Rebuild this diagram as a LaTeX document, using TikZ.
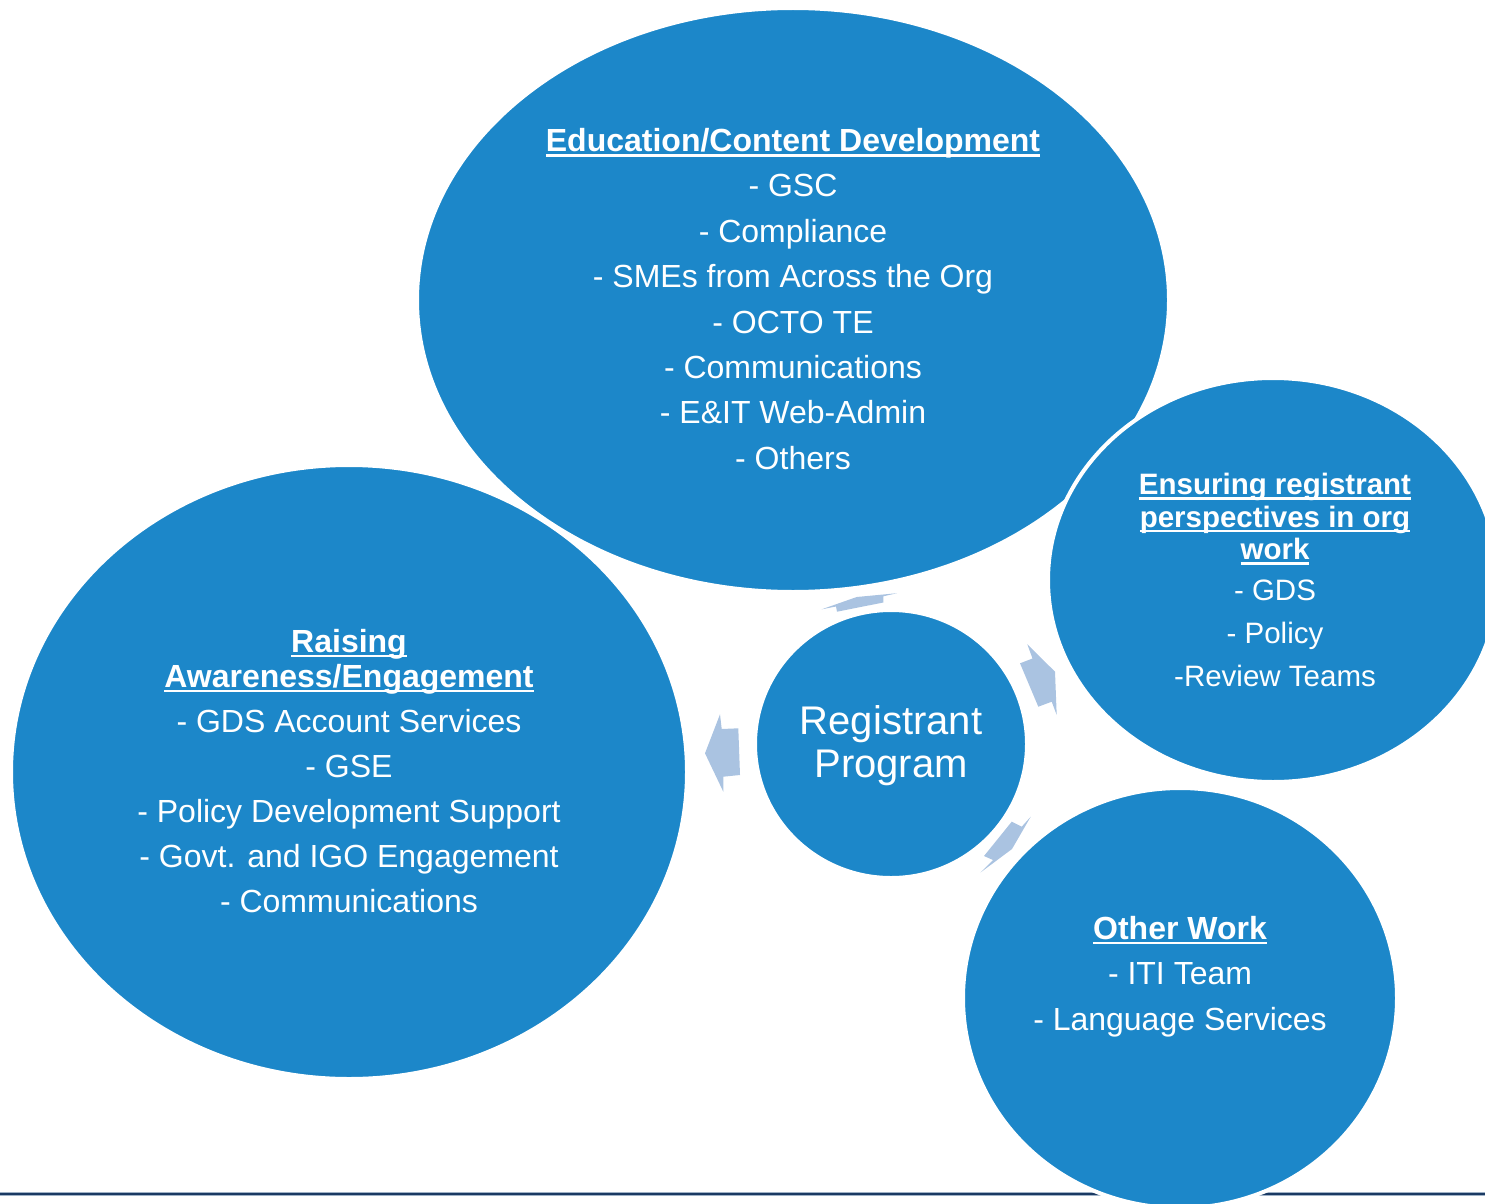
\documentclass[tikz,border=0pt]{standalone}
\usepackage{fontspec}
\setmainfont{Liberation Sans}
\usetikzlibrary{shapes.geometric}
\definecolor{bubblue}{RGB}{28,135,201}
\definecolor{arrblue}{RGB}{170,195,225}
\definecolor{navy}{RGB}{27,58,99}
\definecolor{navyedge}{RGB}{160,178,198}
\tikzset{
  bubble/.style={ellipse, fill=bubblue, draw=white, line width=4, inner sep=0pt},
  btext/.style={text=white, align=center, inner sep=0pt},
  blockarrow/.style={fill=arrblue}
}
\newcommand{\ul}[1]{\setbox0\hbox{#1}\dp0=0pt\vtop{\box0\kern2.6pt\hrule height 2.4pt}}
\begin{document}
\begin{tikzpicture}[x=1pt,y=-1pt]
\useasboundingbox (0,0) rectangle (1485,1204);
\clip (0,0) rectangle (1485,1204);
% bottom rule
\coordinate (ruleL) at (0,1194);
\coordinate (ruleR) at (1485,1194);
\draw[navyedge, line width=4.5] (ruleL) -- (ruleR);
\draw[navy, line width=2.5] (ruleL) -- (ruleR);
% bubbles
\node[bubble, minimum width=752, minimum height=584] (edu) at (793,300) {};
\node[bubble, minimum width=676, minimum height=614] (raise) at (349,772) {};
\node[bubble, minimum width=450, minimum height=404] (ensure) at (1273,580) {};
\node[bubble, minimum width=272, minimum height=268] (core) at (891,744) {};
\node[bubble, minimum width=434, minimum height=420] (other) at (1180,998) {};
% arrows
\fill[blockarrow] (821.7,609.3) -- (856.7,597) -- (897,593.2) -- (883.3,596.3) -- (883.3,602.5) -- (837,611.7) -- (836,606.5) -- cycle;
\fill[blockarrow] (1027.3,644.3) -- (1055,671.7) -- (1056.7,715) -- (1051.7,701.7) -- (1038.3,706.7) -- (1020,663.3) -- (1032.5,658.5) -- cycle;
\fill[blockarrow] (1030.7,816.7) -- (1012,849) -- (980.5,872.5) -- (993,860) -- (984,856) -- (1011.7,821.7) -- (1021.7,826.7) -- cycle;
\fill[blockarrow] (720,714.3) -- (721.7,729) -- (738.3,728.3) -- (740,775) -- (723.3,776.7) -- (723.3,791.7) -- (705,753.3) -- cycle;
% texts
\node[btext, font=\fontsize{32}{45.4}\selectfont] (edutext) at (793,299)
  {\textbf{\ul{Education/Content Development}}\\ - GSC\\ - Compliance\\ - SMEs from Across the Org\\ - OCTO TE\\ - Communications\\ - E\&IT Web-Admin\\ - Others};
\node[btext, font=\fontsize{32}{35}\selectfont] (raisetext) at (349,771)
  {\textbf{\ul{Raising}}\\ \textbf{\ul{Awareness/Engagement}}\\[10pt] - GDS Account Services\\[10pt] - GSE\\[10pt] - Policy Development Support\\[10pt] - Govt. and IGO Engagement\\[10pt] - Communications};
\node[btext, font=\fontsize{29.5}{32.5}\selectfont] (ensuretext) at (1275,580)
  {\textbf{\ul{Ensuring registrant}}\\ \textbf{\ul{perspectives in org}}\\ \textbf{\ul{work}}\\[8.5pt] - GDS\\[10.5pt] - Policy\\[10.5pt] -Review Teams};
\node[btext, font=\fontsize{32}{45.4}\selectfont] (othertext) at (1180,976.5)
  {\textbf{\ul{Other Work}}\\ - ITI Team\\ - Language Services};
\node[btext, font=\fontsize{40}{43}\selectfont] (coretext) at (891,746)
  {Registrant\\ Program};
\end{tikzpicture}
\end{document}
